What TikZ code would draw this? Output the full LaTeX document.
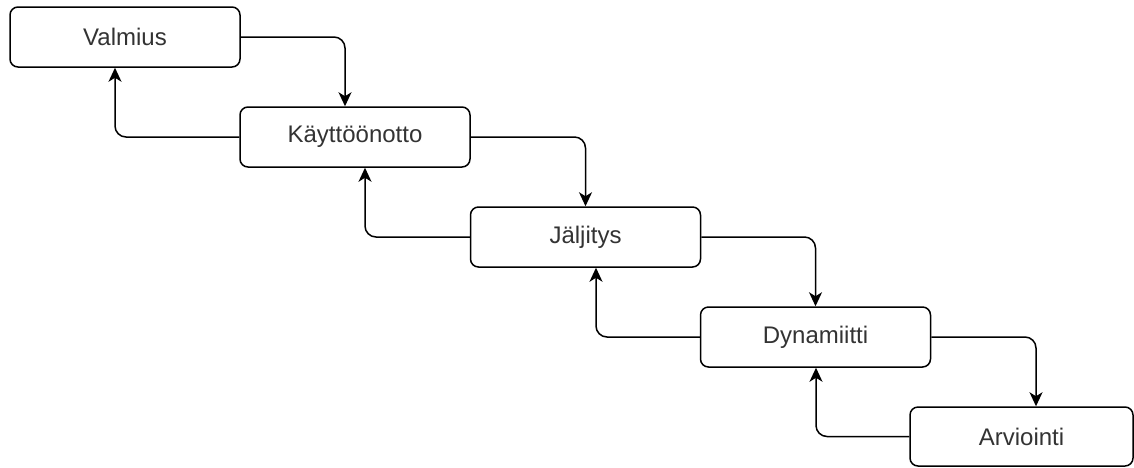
\documentclass[tikz,border=0pt]{standalone}
\usepackage{fontspec}
\setmainfont{Liberation Sans}
\usetikzlibrary{arrows.meta}
\begin{document}
\begin{tikzpicture}[x=1pt,y=-1pt,
  stage/.style={draw=black, line width=1.5pt, rounded corners=8pt, fill=white,
    minimum width=230pt, minimum height=60pt, inner sep=0pt,
    font=\fontsize{24pt}{28pt}\selectfont, text=black!80},
  flow/.style={draw=black, line width=1.5pt, rounded corners=11pt,
    -{Stealth[length=14pt,width=13pt,inset=4pt]}}]
\useasboundingbox (0,0) rectangle (1134,467);
\begin{scope}
\clip (0,0) rectangle (1134,467);
\node[stage] (valmius)      at (125,37)    {Valmius};
\node[stage] (kayttoonotto) at (355,137)   {Käyttöönotto};
\node[stage] (jaljitys)     at (585.5,237) {Jäljitys};
\node[stage] (dynamiitti)   at (815.5,337) {Dynamiitti};
\node[stage, minimum width=223pt, minimum height=59pt] (arviointi) at (1021.5,436.5) {Arviointi};

% forward steps
\draw[flow] (valmius.east)    -| ([xshift=-10pt]kayttoonotto.north);
\draw[flow] (kayttoonotto.east) -| (jaljitys.north);
\draw[flow] (jaljitys.east)   -| (dynamiitti.north);
\draw[flow] (dynamiitti.east) -| ([xshift=14.5pt]arviointi.north);

% feedback steps
\draw[flow] (kayttoonotto.west) -| ([xshift=-10pt]valmius.south);
\draw[flow] (jaljitys.west)     -| ([xshift=10pt]kayttoonotto.south);
\draw[flow] (dynamiitti.west)   -| ([xshift=10.5pt]jaljitys.south);
\draw[flow] (arviointi.west)    -| ([xshift=0.5pt]dynamiitti.south);
\end{scope}
\end{tikzpicture}
\end{document}
